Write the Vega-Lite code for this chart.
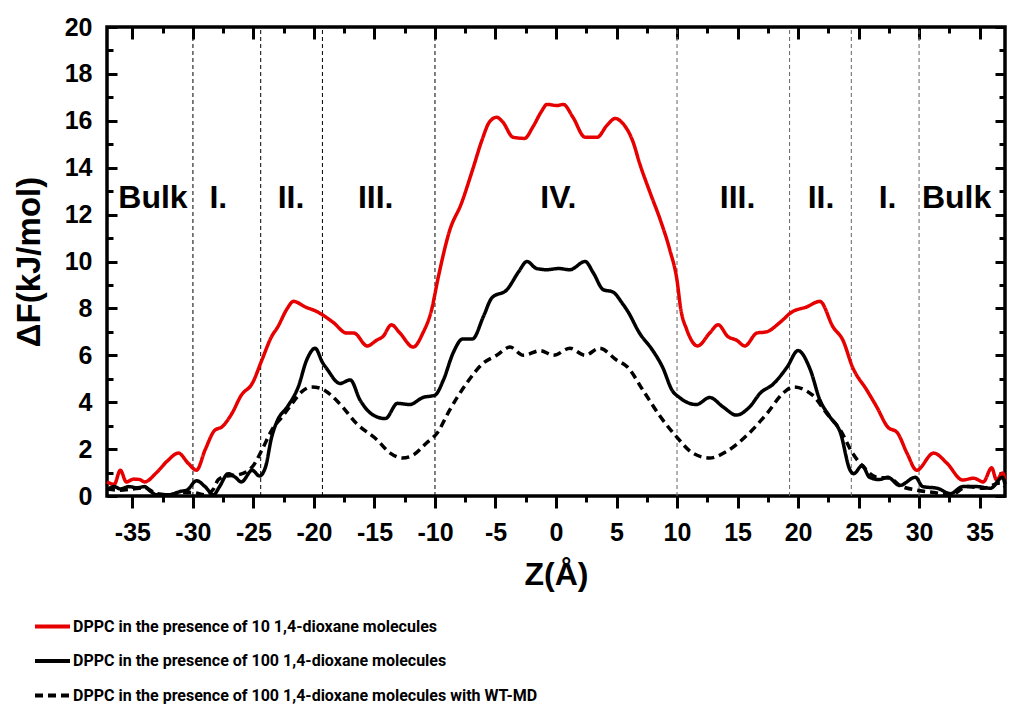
{
  "$schema": "https://vega.github.io/schema/vega-lite/v6.json",
  "width": 898,
  "height": 469,
  "autosize": {"type": "none"},
  "padding": {"left": 107, "top": 27, "right": 9, "bottom": 217},
  "background": "white",
  "config": {
    "font": "Liberation Sans",
    "view": {"stroke": "black", "strokeWidth": 3.5},
    "axis": {"grid": false, "domain": false, "labelColor": "black", "titleColor": "black", "tickColor": "black", "tickWidth": 3, "labelFont": "Liberation Sans", "labelFontWeight": "bold", "labelFontSize": 25, "titleFont": "Liberation Sans", "titleFontWeight": "bold"}
  },
  "datasets": {
    "curves": [
      {"z": -37.1, "dF": 0.6, "series": "DPPC in the presence of 10 1,4-dioxane molecules"},
      {"z": -36.5, "dF": 0.5, "series": "DPPC in the presence of 10 1,4-dioxane molecules"},
      {"z": -36.0, "dF": 1.1, "series": "DPPC in the presence of 10 1,4-dioxane molecules"},
      {"z": -35.5, "dF": 0.6, "series": "DPPC in the presence of 10 1,4-dioxane molecules"},
      {"z": -34.9, "dF": 0.72, "series": "DPPC in the presence of 10 1,4-dioxane molecules"},
      {"z": -34.4, "dF": 0.7, "series": "DPPC in the presence of 10 1,4-dioxane molecules"},
      {"z": -34.0, "dF": 0.6, "series": "DPPC in the presence of 10 1,4-dioxane molecules"},
      {"z": -33.0, "dF": 1.0, "series": "DPPC in the presence of 10 1,4-dioxane molecules"},
      {"z": -32.1, "dF": 1.5, "series": "DPPC in the presence of 10 1,4-dioxane molecules"},
      {"z": -31.2, "dF": 1.83, "series": "DPPC in the presence of 10 1,4-dioxane molecules"},
      {"z": -30.4, "dF": 1.4, "series": "DPPC in the presence of 10 1,4-dioxane molecules"},
      {"z": -29.7, "dF": 1.1, "series": "DPPC in the presence of 10 1,4-dioxane molecules"},
      {"z": -29.0, "dF": 1.96, "series": "DPPC in the presence of 10 1,4-dioxane molecules"},
      {"z": -28.2, "dF": 2.8, "series": "DPPC in the presence of 10 1,4-dioxane molecules"},
      {"z": -27.6, "dF": 2.95, "series": "DPPC in the presence of 10 1,4-dioxane molecules"},
      {"z": -26.8, "dF": 3.5, "series": "DPPC in the presence of 10 1,4-dioxane molecules"},
      {"z": -26.0, "dF": 4.3, "series": "DPPC in the presence of 10 1,4-dioxane molecules"},
      {"z": -25.1, "dF": 4.8, "series": "DPPC in the presence of 10 1,4-dioxane molecules"},
      {"z": -24.3, "dF": 5.8, "series": "DPPC in the presence of 10 1,4-dioxane molecules"},
      {"z": -23.5, "dF": 6.8, "series": "DPPC in the presence of 10 1,4-dioxane molecules"},
      {"z": -23.0, "dF": 7.2, "series": "DPPC in the presence of 10 1,4-dioxane molecules"},
      {"z": -22.2, "dF": 8.0, "series": "DPPC in the presence of 10 1,4-dioxane molecules"},
      {"z": -21.7, "dF": 8.3, "series": "DPPC in the presence of 10 1,4-dioxane molecules"},
      {"z": -20.7, "dF": 8.06, "series": "DPPC in the presence of 10 1,4-dioxane molecules"},
      {"z": -19.7, "dF": 7.85, "series": "DPPC in the presence of 10 1,4-dioxane molecules"},
      {"z": -18.4, "dF": 7.4, "series": "DPPC in the presence of 10 1,4-dioxane molecules"},
      {"z": -17.3, "dF": 6.95, "series": "DPPC in the presence of 10 1,4-dioxane molecules"},
      {"z": -16.7, "dF": 6.95, "series": "DPPC in the presence of 10 1,4-dioxane molecules"},
      {"z": -15.6, "dF": 6.4, "series": "DPPC in the presence of 10 1,4-dioxane molecules"},
      {"z": -14.8, "dF": 6.65, "series": "DPPC in the presence of 10 1,4-dioxane molecules"},
      {"z": -14.3, "dF": 6.8, "series": "DPPC in the presence of 10 1,4-dioxane molecules"},
      {"z": -13.6, "dF": 7.3, "series": "DPPC in the presence of 10 1,4-dioxane molecules"},
      {"z": -12.9, "dF": 6.95, "series": "DPPC in the presence of 10 1,4-dioxane molecules"},
      {"z": -11.8, "dF": 6.35, "series": "DPPC in the presence of 10 1,4-dioxane molecules"},
      {"z": -11.0, "dF": 6.95, "series": "DPPC in the presence of 10 1,4-dioxane molecules"},
      {"z": -10.3, "dF": 7.9, "series": "DPPC in the presence of 10 1,4-dioxane molecules"},
      {"z": -9.7, "dF": 9.4, "series": "DPPC in the presence of 10 1,4-dioxane molecules"},
      {"z": -8.8, "dF": 11.3, "series": "DPPC in the presence of 10 1,4-dioxane molecules"},
      {"z": -7.8, "dF": 12.5, "series": "DPPC in the presence of 10 1,4-dioxane molecules"},
      {"z": -6.9, "dF": 13.9, "series": "DPPC in the presence of 10 1,4-dioxane molecules"},
      {"z": -6.1, "dF": 15.2, "series": "DPPC in the presence of 10 1,4-dioxane molecules"},
      {"z": -5.5, "dF": 15.95, "series": "DPPC in the presence of 10 1,4-dioxane molecules"},
      {"z": -4.9, "dF": 16.15, "series": "DPPC in the presence of 10 1,4-dioxane molecules"},
      {"z": -4.4, "dF": 15.95, "series": "DPPC in the presence of 10 1,4-dioxane molecules"},
      {"z": -3.55, "dF": 15.3, "series": "DPPC in the presence of 10 1,4-dioxane molecules"},
      {"z": -2.6, "dF": 15.25, "series": "DPPC in the presence of 10 1,4-dioxane molecules"},
      {"z": -1.9, "dF": 15.75, "series": "DPPC in the presence of 10 1,4-dioxane molecules"},
      {"z": -1.2, "dF": 16.4, "series": "DPPC in the presence of 10 1,4-dioxane molecules"},
      {"z": -0.75, "dF": 16.7, "series": "DPPC in the presence of 10 1,4-dioxane molecules"},
      {"z": 0.1, "dF": 16.65, "series": "DPPC in the presence of 10 1,4-dioxane molecules"},
      {"z": 0.6, "dF": 16.7, "series": "DPPC in the presence of 10 1,4-dioxane molecules"},
      {"z": 1.4, "dF": 16.15, "series": "DPPC in the presence of 10 1,4-dioxane molecules"},
      {"z": 2.4, "dF": 15.3, "series": "DPPC in the presence of 10 1,4-dioxane molecules"},
      {"z": 3.4, "dF": 15.3, "series": "DPPC in the presence of 10 1,4-dioxane molecules"},
      {"z": 4.2, "dF": 15.8, "series": "DPPC in the presence of 10 1,4-dioxane molecules"},
      {"z": 4.9, "dF": 16.1, "series": "DPPC in the presence of 10 1,4-dioxane molecules"},
      {"z": 5.5, "dF": 15.9, "series": "DPPC in the presence of 10 1,4-dioxane molecules"},
      {"z": 6.4, "dF": 15.05, "series": "DPPC in the presence of 10 1,4-dioxane molecules"},
      {"z": 6.9, "dF": 14.2, "series": "DPPC in the presence of 10 1,4-dioxane molecules"},
      {"z": 7.8, "dF": 12.9, "series": "DPPC in the presence of 10 1,4-dioxane molecules"},
      {"z": 8.6, "dF": 11.8, "series": "DPPC in the presence of 10 1,4-dioxane molecules"},
      {"z": 9.4, "dF": 10.5, "series": "DPPC in the presence of 10 1,4-dioxane molecules"},
      {"z": 10.0, "dF": 9.2, "series": "DPPC in the presence of 10 1,4-dioxane molecules"},
      {"z": 10.3, "dF": 8.0, "series": "DPPC in the presence of 10 1,4-dioxane molecules"},
      {"z": 10.8, "dF": 7.1, "series": "DPPC in the presence of 10 1,4-dioxane molecules"},
      {"z": 11.7, "dF": 6.4, "series": "DPPC in the presence of 10 1,4-dioxane molecules"},
      {"z": 12.7, "dF": 6.95, "series": "DPPC in the presence of 10 1,4-dioxane molecules"},
      {"z": 13.4, "dF": 7.3, "series": "DPPC in the presence of 10 1,4-dioxane molecules"},
      {"z": 14.2, "dF": 6.8, "series": "DPPC in the presence of 10 1,4-dioxane molecules"},
      {"z": 14.9, "dF": 6.65, "series": "DPPC in the presence of 10 1,4-dioxane molecules"},
      {"z": 15.6, "dF": 6.4, "series": "DPPC in the presence of 10 1,4-dioxane molecules"},
      {"z": 16.6, "dF": 6.95, "series": "DPPC in the presence of 10 1,4-dioxane molecules"},
      {"z": 17.4, "dF": 7.0, "series": "DPPC in the presence of 10 1,4-dioxane molecules"},
      {"z": 18.5, "dF": 7.4, "series": "DPPC in the presence of 10 1,4-dioxane molecules"},
      {"z": 19.5, "dF": 7.85, "series": "DPPC in the presence of 10 1,4-dioxane molecules"},
      {"z": 20.7, "dF": 8.06, "series": "DPPC in the presence of 10 1,4-dioxane molecules"},
      {"z": 21.8, "dF": 8.3, "series": "DPPC in the presence of 10 1,4-dioxane molecules"},
      {"z": 22.9, "dF": 7.2, "series": "DPPC in the presence of 10 1,4-dioxane molecules"},
      {"z": 23.7, "dF": 6.65, "series": "DPPC in the presence of 10 1,4-dioxane molecules"},
      {"z": 24.5, "dF": 5.5, "series": "DPPC in the presence of 10 1,4-dioxane molecules"},
      {"z": 25.7, "dF": 4.5, "series": "DPPC in the presence of 10 1,4-dioxane molecules"},
      {"z": 26.5, "dF": 3.8, "series": "DPPC in the presence of 10 1,4-dioxane molecules"},
      {"z": 27.4, "dF": 2.95, "series": "DPPC in the presence of 10 1,4-dioxane molecules"},
      {"z": 28.2, "dF": 2.7, "series": "DPPC in the presence of 10 1,4-dioxane molecules"},
      {"z": 29.0, "dF": 1.83, "series": "DPPC in the presence of 10 1,4-dioxane molecules"},
      {"z": 29.8, "dF": 1.1, "series": "DPPC in the presence of 10 1,4-dioxane molecules"},
      {"z": 31.2, "dF": 1.83, "series": "DPPC in the presence of 10 1,4-dioxane molecules"},
      {"z": 32.3, "dF": 1.4, "series": "DPPC in the presence of 10 1,4-dioxane molecules"},
      {"z": 33.6, "dF": 0.68, "series": "DPPC in the presence of 10 1,4-dioxane molecules"},
      {"z": 34.5, "dF": 0.76, "series": "DPPC in the presence of 10 1,4-dioxane molecules"},
      {"z": 35.3, "dF": 0.6, "series": "DPPC in the presence of 10 1,4-dioxane molecules"},
      {"z": 36.0, "dF": 1.2, "series": "DPPC in the presence of 10 1,4-dioxane molecules"},
      {"z": 36.4, "dF": 0.68, "series": "DPPC in the presence of 10 1,4-dioxane molecules"},
      {"z": 36.9, "dF": 0.98, "series": "DPPC in the presence of 10 1,4-dioxane molecules"},
      {"z": 37.1, "dF": 0.7, "series": "DPPC in the presence of 10 1,4-dioxane molecules"},

      {"z": -37.1, "dF": 0.25, "series": "DPPC in the presence of 100 1,4-dioxane molecules"},
      {"z": -36.5, "dF": 0.4, "series": "DPPC in the presence of 100 1,4-dioxane molecules"},
      {"z": -36.0, "dF": 0.3, "series": "DPPC in the presence of 100 1,4-dioxane molecules"},
      {"z": -35.3, "dF": 0.4, "series": "DPPC in the presence of 100 1,4-dioxane molecules"},
      {"z": -34.6, "dF": 0.35, "series": "DPPC in the presence of 100 1,4-dioxane molecules"},
      {"z": -34.0, "dF": 0.4, "series": "DPPC in the presence of 100 1,4-dioxane molecules"},
      {"z": -33.5, "dF": 0.2, "series": "DPPC in the presence of 100 1,4-dioxane molecules"},
      {"z": -33.0, "dF": 0.05, "series": "DPPC in the presence of 100 1,4-dioxane molecules"},
      {"z": -32.0, "dF": 0.05, "series": "DPPC in the presence of 100 1,4-dioxane molecules"},
      {"z": -31.0, "dF": 0.2, "series": "DPPC in the presence of 100 1,4-dioxane molecules"},
      {"z": -30.5, "dF": 0.25, "series": "DPPC in the presence of 100 1,4-dioxane molecules"},
      {"z": -29.7, "dF": 0.65, "series": "DPPC in the presence of 100 1,4-dioxane molecules"},
      {"z": -29.0, "dF": 0.4, "series": "DPPC in the presence of 100 1,4-dioxane molecules"},
      {"z": -28.3, "dF": 0.05, "series": "DPPC in the presence of 100 1,4-dioxane molecules"},
      {"z": -27.8, "dF": 0.4, "series": "DPPC in the presence of 100 1,4-dioxane molecules"},
      {"z": -27.1, "dF": 0.95, "series": "DPPC in the presence of 100 1,4-dioxane molecules"},
      {"z": -26.5, "dF": 0.8, "series": "DPPC in the presence of 100 1,4-dioxane molecules"},
      {"z": -26.0, "dF": 0.6, "series": "DPPC in the presence of 100 1,4-dioxane molecules"},
      {"z": -25.1, "dF": 1.1, "series": "DPPC in the presence of 100 1,4-dioxane molecules"},
      {"z": -24.5, "dF": 0.85, "series": "DPPC in the presence of 100 1,4-dioxane molecules"},
      {"z": -24.0, "dF": 1.24, "series": "DPPC in the presence of 100 1,4-dioxane molecules"},
      {"z": -23.5, "dF": 2.5, "series": "DPPC in the presence of 100 1,4-dioxane molecules"},
      {"z": -23.0, "dF": 3.24, "series": "DPPC in the presence of 100 1,4-dioxane molecules"},
      {"z": -22.2, "dF": 3.8, "series": "DPPC in the presence of 100 1,4-dioxane molecules"},
      {"z": -21.3, "dF": 4.65, "series": "DPPC in the presence of 100 1,4-dioxane molecules"},
      {"z": -20.6, "dF": 5.8, "series": "DPPC in the presence of 100 1,4-dioxane molecules"},
      {"z": -19.9, "dF": 6.3, "series": "DPPC in the presence of 100 1,4-dioxane molecules"},
      {"z": -19.3, "dF": 5.7, "series": "DPPC in the presence of 100 1,4-dioxane molecules"},
      {"z": -18.9, "dF": 5.4, "series": "DPPC in the presence of 100 1,4-dioxane molecules"},
      {"z": -17.85, "dF": 4.8, "series": "DPPC in the presence of 100 1,4-dioxane molecules"},
      {"z": -17.0, "dF": 4.95, "series": "DPPC in the presence of 100 1,4-dioxane molecules"},
      {"z": -16.2, "dF": 4.1, "series": "DPPC in the presence of 100 1,4-dioxane molecules"},
      {"z": -15.1, "dF": 3.45, "series": "DPPC in the presence of 100 1,4-dioxane molecules"},
      {"z": -14.1, "dF": 3.3, "series": "DPPC in the presence of 100 1,4-dioxane molecules"},
      {"z": -13.1, "dF": 3.95, "series": "DPPC in the presence of 100 1,4-dioxane molecules"},
      {"z": -12.1, "dF": 3.9, "series": "DPPC in the presence of 100 1,4-dioxane molecules"},
      {"z": -11.0, "dF": 4.2, "series": "DPPC in the presence of 100 1,4-dioxane molecules"},
      {"z": -10.0, "dF": 4.3, "series": "DPPC in the presence of 100 1,4-dioxane molecules"},
      {"z": -9.3, "dF": 4.95, "series": "DPPC in the presence of 100 1,4-dioxane molecules"},
      {"z": -8.5, "dF": 6.1, "series": "DPPC in the presence of 100 1,4-dioxane molecules"},
      {"z": -7.7, "dF": 6.7, "series": "DPPC in the presence of 100 1,4-dioxane molecules"},
      {"z": -6.9, "dF": 6.7, "series": "DPPC in the presence of 100 1,4-dioxane molecules"},
      {"z": -6.0, "dF": 7.65, "series": "DPPC in the presence of 100 1,4-dioxane molecules"},
      {"z": -5.3, "dF": 8.45, "series": "DPPC in the presence of 100 1,4-dioxane molecules"},
      {"z": -4.05, "dF": 8.8, "series": "DPPC in the presence of 100 1,4-dioxane molecules"},
      {"z": -3.1, "dF": 9.55, "series": "DPPC in the presence of 100 1,4-dioxane molecules"},
      {"z": -2.4, "dF": 10.0, "series": "DPPC in the presence of 100 1,4-dioxane molecules"},
      {"z": -1.6, "dF": 9.7, "series": "DPPC in the presence of 100 1,4-dioxane molecules"},
      {"z": -0.75, "dF": 9.65, "series": "DPPC in the presence of 100 1,4-dioxane molecules"},
      {"z": 0.2, "dF": 9.7, "series": "DPPC in the presence of 100 1,4-dioxane molecules"},
      {"z": 1.15, "dF": 9.65, "series": "DPPC in the presence of 100 1,4-dioxane molecules"},
      {"z": 2.4, "dF": 10.0, "series": "DPPC in the presence of 100 1,4-dioxane molecules"},
      {"z": 3.1, "dF": 9.5, "series": "DPPC in the presence of 100 1,4-dioxane molecules"},
      {"z": 3.9, "dF": 8.8, "series": "DPPC in the presence of 100 1,4-dioxane molecules"},
      {"z": 4.7, "dF": 8.7, "series": "DPPC in the presence of 100 1,4-dioxane molecules"},
      {"z": 5.5, "dF": 8.2, "series": "DPPC in the presence of 100 1,4-dioxane molecules"},
      {"z": 5.9, "dF": 7.9, "series": "DPPC in the presence of 100 1,4-dioxane molecules"},
      {"z": 6.9, "dF": 6.95, "series": "DPPC in the presence of 100 1,4-dioxane molecules"},
      {"z": 8.0, "dF": 6.2, "series": "DPPC in the presence of 100 1,4-dioxane molecules"},
      {"z": 8.8, "dF": 5.5, "series": "DPPC in the presence of 100 1,4-dioxane molecules"},
      {"z": 9.6, "dF": 4.5, "series": "DPPC in the presence of 100 1,4-dioxane molecules"},
      {"z": 10.2, "dF": 4.2, "series": "DPPC in the presence of 100 1,4-dioxane molecules"},
      {"z": 11.6, "dF": 3.9, "series": "DPPC in the presence of 100 1,4-dioxane molecules"},
      {"z": 12.7, "dF": 4.2, "series": "DPPC in the presence of 100 1,4-dioxane molecules"},
      {"z": 13.8, "dF": 3.8, "series": "DPPC in the presence of 100 1,4-dioxane molecules"},
      {"z": 14.9, "dF": 3.45, "series": "DPPC in the presence of 100 1,4-dioxane molecules"},
      {"z": 16.0, "dF": 3.8, "series": "DPPC in the presence of 100 1,4-dioxane molecules"},
      {"z": 16.9, "dF": 4.4, "series": "DPPC in the presence of 100 1,4-dioxane molecules"},
      {"z": 17.9, "dF": 4.75, "series": "DPPC in the presence of 100 1,4-dioxane molecules"},
      {"z": 19.1, "dF": 5.5, "series": "DPPC in the presence of 100 1,4-dioxane molecules"},
      {"z": 20.0, "dF": 6.2, "series": "DPPC in the presence of 100 1,4-dioxane molecules"},
      {"z": 21.0, "dF": 5.4, "series": "DPPC in the presence of 100 1,4-dioxane molecules"},
      {"z": 21.8, "dF": 4.1, "series": "DPPC in the presence of 100 1,4-dioxane molecules"},
      {"z": 22.6, "dF": 3.4, "series": "DPPC in the presence of 100 1,4-dioxane molecules"},
      {"z": 23.5, "dF": 2.7, "series": "DPPC in the presence of 100 1,4-dioxane molecules"},
      {"z": 24.3, "dF": 1.1, "series": "DPPC in the presence of 100 1,4-dioxane molecules"},
      {"z": 24.6, "dF": 0.95, "series": "DPPC in the presence of 100 1,4-dioxane molecules"},
      {"z": 25.3, "dF": 1.3, "series": "DPPC in the presence of 100 1,4-dioxane molecules"},
      {"z": 25.9, "dF": 0.8, "series": "DPPC in the presence of 100 1,4-dioxane molecules"},
      {"z": 26.7, "dF": 0.7, "series": "DPPC in the presence of 100 1,4-dioxane molecules"},
      {"z": 27.4, "dF": 0.8, "series": "DPPC in the presence of 100 1,4-dioxane molecules"},
      {"z": 28.4, "dF": 0.45, "series": "DPPC in the presence of 100 1,4-dioxane molecules"},
      {"z": 29.7, "dF": 0.8, "series": "DPPC in the presence of 100 1,4-dioxane molecules"},
      {"z": 30.3, "dF": 0.4, "series": "DPPC in the presence of 100 1,4-dioxane molecules"},
      {"z": 31.5, "dF": 0.33, "series": "DPPC in the presence of 100 1,4-dioxane molecules"},
      {"z": 32.6, "dF": 0.1, "series": "DPPC in the presence of 100 1,4-dioxane molecules"},
      {"z": 33.6, "dF": 0.4, "series": "DPPC in the presence of 100 1,4-dioxane molecules"},
      {"z": 34.8, "dF": 0.4, "series": "DPPC in the presence of 100 1,4-dioxane molecules"},
      {"z": 35.9, "dF": 0.33, "series": "DPPC in the presence of 100 1,4-dioxane molecules"},
      {"z": 36.9, "dF": 0.8, "series": "DPPC in the presence of 100 1,4-dioxane molecules"},
      {"z": 37.1, "dF": 0.5, "series": "DPPC in the presence of 100 1,4-dioxane molecules"},

      {"z": -37.1, "dF": 0.3, "series": "DPPC in the presence of 100 1,4-dioxane molecules with WT-MD"},
      {"z": -36.0, "dF": 0.25, "series": "DPPC in the presence of 100 1,4-dioxane molecules with WT-MD"},
      {"z": -35.0, "dF": 0.3, "series": "DPPC in the presence of 100 1,4-dioxane molecules with WT-MD"},
      {"z": -34.0, "dF": 0.35, "series": "DPPC in the presence of 100 1,4-dioxane molecules with WT-MD"},
      {"z": -33.0, "dF": 0.1, "series": "DPPC in the presence of 100 1,4-dioxane molecules with WT-MD"},
      {"z": -32.0, "dF": 0.05, "series": "DPPC in the presence of 100 1,4-dioxane molecules with WT-MD"},
      {"z": -31.0, "dF": 0.15, "series": "DPPC in the presence of 100 1,4-dioxane molecules with WT-MD"},
      {"z": -30.0, "dF": 0.15, "series": "DPPC in the presence of 100 1,4-dioxane molecules with WT-MD"},
      {"z": -29.0, "dF": 0.05, "series": "DPPC in the presence of 100 1,4-dioxane molecules with WT-MD"},
      {"z": -28.3, "dF": 0.3, "series": "DPPC in the presence of 100 1,4-dioxane molecules with WT-MD"},
      {"z": -27.9, "dF": 0.7, "series": "DPPC in the presence of 100 1,4-dioxane molecules with WT-MD"},
      {"z": -27.2, "dF": 0.85, "series": "DPPC in the presence of 100 1,4-dioxane molecules with WT-MD"},
      {"z": -26.3, "dF": 0.9, "series": "DPPC in the presence of 100 1,4-dioxane molecules with WT-MD"},
      {"z": -25.1, "dF": 1.24, "series": "DPPC in the presence of 100 1,4-dioxane molecules with WT-MD"},
      {"z": -24.3, "dF": 1.96, "series": "DPPC in the presence of 100 1,4-dioxane molecules with WT-MD"},
      {"z": -23.5, "dF": 2.8, "series": "DPPC in the presence of 100 1,4-dioxane molecules with WT-MD"},
      {"z": -22.6, "dF": 3.4, "series": "DPPC in the presence of 100 1,4-dioxane molecules with WT-MD"},
      {"z": -21.8, "dF": 3.95, "series": "DPPC in the presence of 100 1,4-dioxane molecules with WT-MD"},
      {"z": -21.0, "dF": 4.45, "series": "DPPC in the presence of 100 1,4-dioxane molecules with WT-MD"},
      {"z": -20.2, "dF": 4.65, "series": "DPPC in the presence of 100 1,4-dioxane molecules with WT-MD"},
      {"z": -19.5, "dF": 4.6, "series": "DPPC in the presence of 100 1,4-dioxane molecules with WT-MD"},
      {"z": -17.9, "dF": 3.95, "series": "DPPC in the presence of 100 1,4-dioxane molecules with WT-MD"},
      {"z": -16.5, "dF": 3.1, "series": "DPPC in the presence of 100 1,4-dioxane molecules with WT-MD"},
      {"z": -14.8, "dF": 2.4, "series": "DPPC in the presence of 100 1,4-dioxane molecules with WT-MD"},
      {"z": -13.7, "dF": 1.83, "series": "DPPC in the presence of 100 1,4-dioxane molecules with WT-MD"},
      {"z": -12.7, "dF": 1.62, "series": "DPPC in the presence of 100 1,4-dioxane molecules with WT-MD"},
      {"z": -11.8, "dF": 1.75, "series": "DPPC in the presence of 100 1,4-dioxane molecules with WT-MD"},
      {"z": -10.7, "dF": 2.26, "series": "DPPC in the presence of 100 1,4-dioxane molecules with WT-MD"},
      {"z": -9.8, "dF": 2.7, "series": "DPPC in the presence of 100 1,4-dioxane molecules with WT-MD"},
      {"z": -8.8, "dF": 3.65, "series": "DPPC in the presence of 100 1,4-dioxane molecules with WT-MD"},
      {"z": -7.4, "dF": 4.8, "series": "DPPC in the presence of 100 1,4-dioxane molecules with WT-MD"},
      {"z": -6.0, "dF": 5.67, "series": "DPPC in the presence of 100 1,4-dioxane molecules with WT-MD"},
      {"z": -4.9, "dF": 6.0, "series": "DPPC in the presence of 100 1,4-dioxane molecules with WT-MD"},
      {"z": -3.8, "dF": 6.35, "series": "DPPC in the presence of 100 1,4-dioxane molecules with WT-MD"},
      {"z": -2.7, "dF": 6.0, "series": "DPPC in the presence of 100 1,4-dioxane molecules with WT-MD"},
      {"z": -1.3, "dF": 6.2, "series": "DPPC in the presence of 100 1,4-dioxane molecules with WT-MD"},
      {"z": -0.2, "dF": 6.0, "series": "DPPC in the presence of 100 1,4-dioxane molecules with WT-MD"},
      {"z": 1.15, "dF": 6.3, "series": "DPPC in the presence of 100 1,4-dioxane molecules with WT-MD"},
      {"z": 2.4, "dF": 6.0, "series": "DPPC in the presence of 100 1,4-dioxane molecules with WT-MD"},
      {"z": 3.6, "dF": 6.3, "series": "DPPC in the presence of 100 1,4-dioxane molecules with WT-MD"},
      {"z": 5.0, "dF": 5.8, "series": "DPPC in the presence of 100 1,4-dioxane molecules with WT-MD"},
      {"z": 5.9, "dF": 5.5, "series": "DPPC in the presence of 100 1,4-dioxane molecules with WT-MD"},
      {"z": 7.2, "dF": 4.5, "series": "DPPC in the presence of 100 1,4-dioxane molecules with WT-MD"},
      {"z": 8.6, "dF": 3.4, "series": "DPPC in the presence of 100 1,4-dioxane molecules with WT-MD"},
      {"z": 10.0, "dF": 2.5, "series": "DPPC in the presence of 100 1,4-dioxane molecules with WT-MD"},
      {"z": 11.3, "dF": 1.83, "series": "DPPC in the presence of 100 1,4-dioxane molecules with WT-MD"},
      {"z": 12.7, "dF": 1.62, "series": "DPPC in the presence of 100 1,4-dioxane molecules with WT-MD"},
      {"z": 14.1, "dF": 1.9, "series": "DPPC in the presence of 100 1,4-dioxane molecules with WT-MD"},
      {"z": 15.8, "dF": 2.6, "series": "DPPC in the presence of 100 1,4-dioxane molecules with WT-MD"},
      {"z": 17.4, "dF": 3.5, "series": "DPPC in the presence of 100 1,4-dioxane molecules with WT-MD"},
      {"z": 18.8, "dF": 4.4, "series": "DPPC in the presence of 100 1,4-dioxane molecules with WT-MD"},
      {"z": 19.6, "dF": 4.65, "series": "DPPC in the presence of 100 1,4-dioxane molecules with WT-MD"},
      {"z": 21.2, "dF": 4.3, "series": "DPPC in the presence of 100 1,4-dioxane molecules with WT-MD"},
      {"z": 22.4, "dF": 3.5, "series": "DPPC in the presence of 100 1,4-dioxane molecules with WT-MD"},
      {"z": 23.5, "dF": 2.8, "series": "DPPC in the presence of 100 1,4-dioxane molecules with WT-MD"},
      {"z": 24.5, "dF": 1.83, "series": "DPPC in the presence of 100 1,4-dioxane molecules with WT-MD"},
      {"z": 25.4, "dF": 1.24, "series": "DPPC in the presence of 100 1,4-dioxane molecules with WT-MD"},
      {"z": 26.5, "dF": 0.8, "series": "DPPC in the presence of 100 1,4-dioxane molecules with WT-MD"},
      {"z": 27.6, "dF": 0.76, "series": "DPPC in the presence of 100 1,4-dioxane molecules with WT-MD"},
      {"z": 28.4, "dF": 0.45, "series": "DPPC in the presence of 100 1,4-dioxane molecules with WT-MD"},
      {"z": 29.8, "dF": 0.25, "series": "DPPC in the presence of 100 1,4-dioxane molecules with WT-MD"},
      {"z": 31.2, "dF": 0.15, "series": "DPPC in the presence of 100 1,4-dioxane molecules with WT-MD"},
      {"z": 32.6, "dF": 0.05, "series": "DPPC in the presence of 100 1,4-dioxane molecules with WT-MD"},
      {"z": 34.0, "dF": 0.4, "series": "DPPC in the presence of 100 1,4-dioxane molecules with WT-MD"},
      {"z": 35.3, "dF": 0.33, "series": "DPPC in the presence of 100 1,4-dioxane molecules with WT-MD"},
      {"z": 36.7, "dF": 0.55, "series": "DPPC in the presence of 100 1,4-dioxane molecules with WT-MD"},
      {"z": 37.1, "dF": 0.4, "series": "DPPC in the presence of 100 1,4-dioxane molecules with WT-MD"}
    ],
    "bounds_left": [{"z": -30}, {"z": -24.4}, {"z": -19.3}, {"z": -10}],
    "bounds_right": [{"z": 10}, {"z": 19.3}, {"z": 24.4}, {"z": 30}],
    "regions": [
      {"z": -33.3, "dF": 12.3, "label": "Bulk"},
      {"z": -27.9, "dF": 12.3, "label": "I."},
      {"z": -21.9, "dF": 12.3, "label": "II."},
      {"z": -14.9, "dF": 12.3, "label": "III."},
      {"z": 0.2, "dF": 12.3, "label": "IV."},
      {"z": 15.0, "dF": 12.3, "label": "III."},
      {"z": 21.9, "dF": 12.3, "label": "II."},
      {"z": 27.4, "dF": 12.3, "label": "I."},
      {"z": 33.1, "dF": 12.3, "label": "Bulk"}
    ]
  },
  "layer": [
    {
      "data": {"name": "bounds_left"},
      "mark": {"type": "rule", "color": "black", "strokeWidth": 1, "strokeDash": [4, 3]},
      "encoding": {
        "x": {"field": "z", "type": "quantitative", "scale": {"domain": [-37.1, 37.1], "nice": false, "zero": false},
          "axis": {"orient": "bottom", "values": [-35, -30, -25, -20, -15, -10, -5, 0, 5, 10, 15, 20, 25, 30, 35], "labelExpr": "replace(datum.label, '−', '-')", "tickSize": 12, "labelPadding": 12, "title": "Z(Å)", "titleFontSize": 32, "titlePadding": 14}},
        "y": {"datum": 0, "type": "quantitative", "scale": {"domain": [0, 20], "nice": false},
          "axis": {"orient": "left", "values": [0, 2, 4, 6, 8, 10, 12, 14, 16, 18, 20], "tickSize": -10, "labelPadding": 25, "title": "ΔF(kJ/mol)", "titleFontSize": 33, "titlePadding": 18}},
        "y2": {"datum": 20}
      }
    },
    {
      "data": {"name": "bounds_right"},
      "mark": {"type": "rule", "color": "#666666", "strokeWidth": 1, "strokeDash": [4, 3]},
      "encoding": {
        "x": {"field": "z", "type": "quantitative",
          "axis": {"orient": "bottom", "values": [-32.5, -27.5, -22.5, -17.5, -12.5, -7.5, -2.5, 2.5, 7.5, 12.5, 17.5, 22.5, 27.5, 32.5], "tickSize": 6, "labels": false, "title": null}},
        "y": {"datum": 0, "type": "quantitative",
          "axis": {"orient": "left", "values": [1, 3, 5, 7, 9, 11, 13, 15, 17, 19], "tickSize": -6, "labels": false, "title": null}},
        "y2": {"datum": 20}
      }
    },
    {
      "data": {"name": "curves"},
      "mark": {"type": "line", "strokeWidth": 3.5, "strokeJoin": "round", "strokeCap": "butt", "interpolate": "monotone"},
      "encoding": {
        "x": {"field": "z", "type": "quantitative",
          "axis": {"orient": "top", "values": [-35, -30, -25, -20, -15, -10, -5, 0, 5, 10, 15, 20, 25, 30, 35], "tickSize": -12, "labels": false, "title": null}},
        "y": {"field": "dF", "type": "quantitative",
          "axis": {"orient": "right", "values": [0, 2, 4, 6, 8, 10, 12, 14, 16, 18, 20], "tickSize": -10, "labels": false, "title": null}},
        "color": {"field": "series", "type": "nominal",
          "scale": {"domain": ["DPPC in the presence of 10 1,4-dioxane molecules", "DPPC in the presence of 100 1,4-dioxane molecules", "DPPC in the presence of 100 1,4-dioxane molecules with WT-MD"], "range": ["#e60000", "#000000", "#000000"]},
          "legend": {"title": null, "orient": "none", "legendX": -74, "legendY": 580, "symbolType": "stroke", "symbolSize": 1225, "symbolStrokeWidth": 4, "labelFont": "Roboto", "labelFontWeight": "bold", "labelFontSize": 16, "labelColor": "black", "labelLimit": 800, "rowPadding": 6.5, "labelOffset": 1}},
        "strokeDash": {"field": "series", "type": "nominal",
          "scale": {"domain": ["DPPC in the presence of 10 1,4-dioxane molecules", "DPPC in the presence of 100 1,4-dioxane molecules", "DPPC in the presence of 100 1,4-dioxane molecules with WT-MD"], "range": [[1, 0], [1, 0], [8, 5]]},
          "legend": {"title": null, "orient": "none", "legendX": -74, "legendY": 580, "symbolType": "stroke", "symbolSize": 1225, "symbolStrokeWidth": 4, "labelFont": "Roboto", "labelFontWeight": "bold", "labelFontSize": 16, "labelColor": "black", "labelLimit": 800, "rowPadding": 6.5, "labelOffset": 1}}
      }
    },
    {
      "data": {"name": "regions"},
      "mark": {"type": "text", "font": "Liberation Sans", "fontWeight": "bold", "fontSize": 32, "baseline": "alphabetic", "align": "center", "color": "black"},
      "encoding": {
        "x": {"field": "z", "type": "quantitative",
          "axis": {"orient": "top", "values": [-32.5, -27.5, -22.5, -17.5, -12.5, -7.5, -2.5, 2.5, 7.5, 12.5, 17.5, 22.5, 27.5, 32.5], "tickSize": -6, "labels": false, "title": null}},
        "y": {"field": "dF", "type": "quantitative",
          "axis": {"orient": "right", "values": [1, 3, 5, 7, 9, 11, 13, 15, 17, 19], "tickSize": -6, "labels": false, "title": null}},
        "text": {"field": "label"}
      }
    }
  ],
  "resolve": {"axis": {"x": "independent", "y": "independent"}}
}
